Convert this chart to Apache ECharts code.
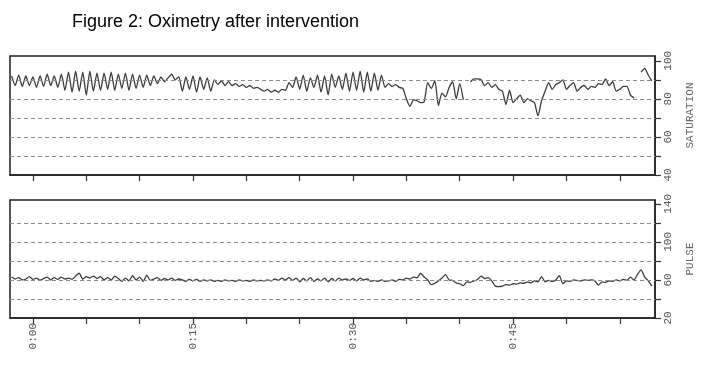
<!DOCTYPE html>
<html><head><meta charset="utf-8">
<script src="https://cdn.jsdelivr.net/npm/echarts@6/dist/echarts.min.js"></script>
<style>html,body{margin:0;padding:0;background:#fff}#c{width:710px;height:377px}</style>
</head><body><div id="c"></div>
<script>
const titleText = 'Figure 2: Oximetry after intervention';
// samples every 20 s, starting 2 min before 0:00 (time in minutes)
const sampleStartMin = -2;
const sampleStepMin = 1 / 3;
const saturation = [
  92, 87, 92.5, 86.5, 92, 87, 91.5, 86, 92, 86.5, 93, 87, 92, 86, 93,
  84.5, 94, 83.5, 94.5, 84, 94, 82, 94.5, 84, 93.5, 84.5,
  93.5, 85, 94, 84.5, 93, 85.5, 93.5, 84.5, 93, 85.5, 92.5, 86, 92.5,
  87, 92, 88, 91.5, 89, 91,
  93, 90, 91.5, 84, 91.5, 85, 92, 83.5, 91.5, 85, 91, 84, 90,
  87.5, 89.5, 87, 89, 87, 88, 86.5, 87.5, 86, 87, 85.5, 86, 85, 84, 85, 83.5, 84.5, 83.5, 85, 84.5,
  88.5, 86, 91.5, 85, 92.5, 84, 91, 86, 92.5, 83.5, 92, 82, 93, 86, 92, 85, 93.5,
  84, 94, 84.5, 94.5, 83.5, 94, 84, 93.5, 84.5, 92.5,
  86, 88, 86.5, 87.5, 86, 85.5,
  80, 76, 79.5, 79, 78, 78.5, 88.5, 85.5, 89.5, 76.5, 83, 81, 86, 89, 80, 88, 79.5,
  null,
  89, 90.5, 90.5, 90, 87, 88.5, 86, 87.5, 85, 84,
  77, 84.5, 78, 80, 82, 78, 80, 79, 78, 71, 79,
  84, 88.5, 85, 87.5, 88.5, 90, 85, 87, 88.5, 84, 86, 87, 85, 86.5, 86, 88, 87.5, 90.5, 87, 89, 84, 85, 86.5, 86.5, 82, 80.5,
  null,
  94, 96, 92.5, 89.5
];
const pulse = [
  63, 61, 62.5, 60, 61, 63.5, 60.5, 62, 59.5, 61.5, 63, 60, 62.5, 60.5, 63,
  61, 62, 60.5, 64, 67, 61, 63.5, 62, 64, 61.5, 63.5, 60, 62.5, 60, 64,
  61.5, 58.5, 62, 59, 64.5, 60, 63, 58.5, 65, 59.5, 61, 62.5, 59.5, 61.5, 60,
  62, 59.5, 61, 60, 58.5, 60.5, 59, 60.5, 58.5, 60, 59, 60, 58.5, 59.5, 58.5,
  60, 59, 59.5, 58.5, 60, 59, 59.5, 58.5, 60, 59, 59.5, 59, 60, 59, 61,
  59.5, 62, 60, 62.5, 59.5, 62, 58, 61.5, 59, 62.5, 58.5, 61, 59, 62, 58,
  61.5, 59, 62, 60, 61, 59.5, 61.5, 59, 62, 60, 61, 58.5, 59.5, 58.5, 60,
  58.5, 59, 60, 58.5, 60.5, 60, 62, 61, 63, 62.5, 67, 63, 60, 55, 56.5,
  59, 62, 65.5, 60, 59.5, 57, 56, 54, 58, 57.5, 59, 60.5, 64, 61.5, 62.5,
  59, 53.5, 53, 53.5, 55, 54.5, 56, 55.5, 57, 56.5, 58, 57, 59, 58, 63.5,
  58, 59.5, 58.5, 60, 64.5, 56, 59, 58.5, 60, 59.5, 59, 60, 59.5, 60, 59,
  54.5, 58, 57.5, 59, 58.5, 60, 59, 60.5, 59.5, 63, 60, 66, 70.5, 63, 59, 53.5
];
const timeTicks = [0, 5, 10, 15, 20, 25, 30, 35, 40, 45, 50, 55];
const timeLabels = [0, 15, 30, 45];
const satTicks = [40, 50, 60, 70, 80, 90, 100];
const satLabels = [40, 60, 80, 100];
const satGrid = [50, 60, 70, 80, 90];
const pulseTicks = [20, 40, 60, 80, 100, 120, 140];
const pulseLabels = [20, 60, 100, 140];
const pulseGrid = [40, 60, 80, 100, 120];

const toPairs = arr => arr.map((v, i) => [sampleStartMin + i * sampleStepMin, v]);
const fmtTime = v => Math.floor(v / 60) + ':' + String(v % 60).padStart(2, '0');

const monoFont = 'Liberation Mono';
const labelColor = '#555';
const frameColor = '#222';
const gridLineStyle = { type: [4, 3], color: '#8c8c8c', width: 1 };

function xAxisFor(gi, showLabels) {
  return {
    gridIndex: gi, type: 'value', min: -2.15, max: 58.3,
    axisLine: { show: true, onZero: false, lineStyle: { color: frameColor, width: 1.5 } },
    axisTick: { show: true, inside: false, length: 6, customValues: timeTicks, lineStyle: { color: '#333', width: 1.2 } },
    axisLabel: {
      show: showLabels, customValues: timeLabels, rotate: 90, margin: 5,
      formatter: fmtTime, fontFamily: monoFont, fontSize: 11, color: labelColor
    },
    splitLine: { show: false }
  };
}
function yAxisFor(gi, min, max, ticks, labels, name) {
  return {
    gridIndex: gi, type: 'value', position: 'right', min: min, max: max,
    axisLine: { show: true, onZero: false, lineStyle: { color: frameColor, width: 1.5 } },
    axisTick: { show: true, inside: false, length: 6, customValues: ticks, lineStyle: { color: '#333', width: 1.2 } },
    axisLabel: { customValues: labels, rotate: 90, margin: 8, fontFamily: monoFont, fontSize: 11, color: labelColor },
    splitLine: { show: false },
    name: name, nameLocation: 'middle', nameGap: 30, nameRotate: 90,
    nameTextStyle: { fontFamily: monoFont, fontSize: 11, color: '#666' }
  };
}
function gridSeries(xi, yi, values) {
  return {
    type: 'line', xAxisIndex: xi, yAxisIndex: yi, data: [], z: 1, silent: true,
    markLine: {
      silent: true, symbol: 'none', animation: false,
      label: { show: false }, lineStyle: gridLineStyle,
      data: values.map(v => ({ yAxis: v }))
    }
  };
}
function traceSeries(xi, yi, values) {
  return {
    type: 'line', xAxisIndex: xi, yAxisIndex: yi, data: toPairs(values), z: 3,
    showSymbol: false, connectNulls: false, smooth: 0.2,
    lineStyle: { color: '#3c3c3c', width: 1.3 }
  };
}

const chart = echarts.init(document.getElementById('c'), null, { renderer: 'canvas' });
chart.setOption({
  animation: false,
  backgroundColor: '#fff',
  title: {
    text: titleText, left: 72, top: 13, padding: 0,
    textStyle: { fontFamily: 'Liberation Sans', fontSize: 18, fontWeight: 'normal', color: '#000' }
  },
  grid: [
    { left: 10, top: 56, width: 645, height: 119, show: true, borderColor: frameColor, borderWidth: 1.5, backgroundColor: 'transparent' },
    { left: 10, top: 200, width: 645, height: 118, show: true, borderColor: frameColor, borderWidth: 1.5, backgroundColor: 'transparent' }
  ],
  xAxis: [xAxisFor(0, false), xAxisFor(1, true)],
  yAxis: [
    yAxisFor(0, 40, 102.5, satTicks, satLabels, 'SATURATION'),
    yAxisFor(1, 20, 144, pulseTicks, pulseLabels, 'PULSE')
  ],
  series: [
    gridSeries(0, 0, satGrid),
    traceSeries(0, 0, saturation),
    gridSeries(1, 1, pulseGrid),
    traceSeries(1, 1, pulse)
  ]
});
</script>
</body></html>
